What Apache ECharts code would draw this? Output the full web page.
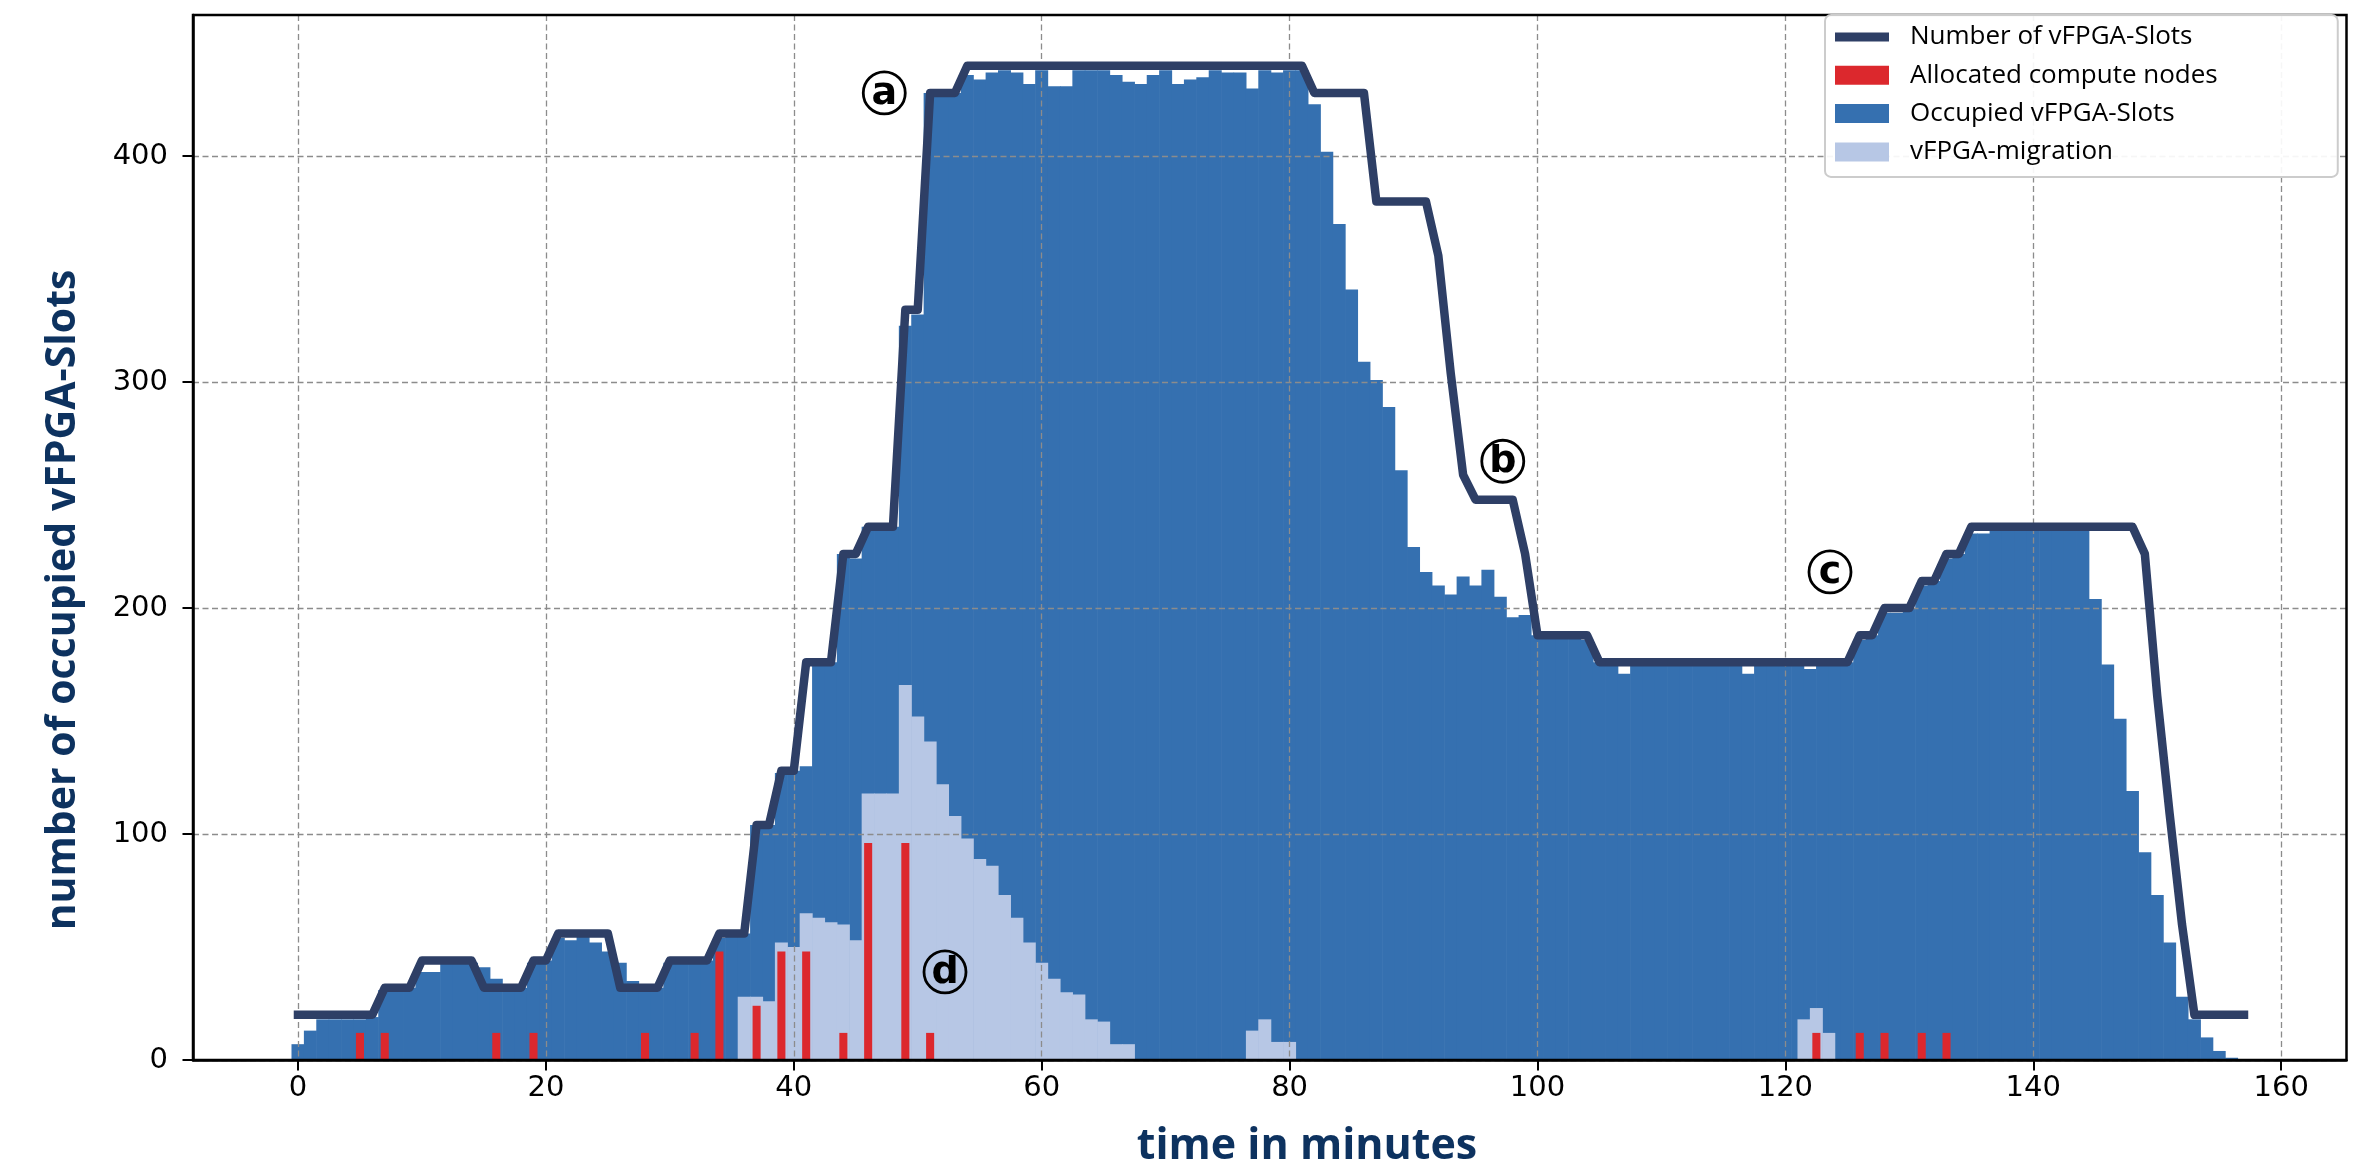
<!DOCTYPE html>
<html>
<head>
<meta charset="utf-8">
<script src="https://cdn.jsdelivr.net/npm/echarts@6/dist/echarts.min.js"></script>
<style>
  html, body { margin: 0; padding: 0; background: #fff; }
  #chart { width: 2357px; height: 1168px; }
</style>
</head>
<body>
<div id="chart"></div>
<script>
// number of vFPGA slots, one value per minute (index = minute)
var slotCount = [
  20, 20, 20, 20, 20, 20, 20, 32, 32, 32,
  44, 44, 44, 44, 44, 32, 32, 32, 32, 44,
  44, 56, 56, 56, 56, 56, 32, 32, 32, 32,
  44, 44, 44, 44, 56, 56, 56, 104, 104, 128,
  128, 176, 176, 176, 224, 224, 236, 236, 236, 332,
  332, 428, 428, 428, 440, 440, 440, 440, 440, 440,
  440, 440, 440, 440, 440, 440, 440, 440, 440, 440,
  440, 440, 440, 440, 440, 440, 440, 440, 440, 440,
  440, 440, 428, 428, 428, 428, 428, 380, 380, 380,
  380, 380, 356, 304, 259, 248, 248, 248, 248, 224,
  188, 188, 188, 188, 188, 176, 176, 176, 176, 176,
  176, 176, 176, 176, 176, 176, 176, 176, 176, 176,
  176, 176, 176, 176, 176, 176, 188, 188, 200, 200,
  200, 212, 212, 224, 224, 236, 236, 236, 236, 236,
  236, 236, 236, 236, 236, 236, 236, 236, 236, 224,
  161, 109, 60, 20, 20, 20, 20, 20
];

// occupied vFPGA slots, one bar per minute (index = minute)
var occupiedSlots = [
  7, 13, 18, 18, 18, 18, 19, 31, 31, 32,
  39, 39, 43, 43, 43, 41, 36, 32, 32, 43,
  44, 54, 53, 55, 52, 48, 43, 35, 32, 32,
  43, 44, 44, 44, 54, 56, 56, 104, 104, 127,
  128, 130, 176, 176, 224, 222, 236, 236, 236, 325,
  330, 428, 428, 428, 436, 434, 437, 438, 437, 432,
  438, 431, 431, 438, 438, 438, 436, 433, 432, 436,
  438, 432, 434, 435, 438, 437, 437, 430, 438, 437,
  438, 438, 423, 402, 370, 341, 309, 301, 289, 261,
  227, 216, 210, 206, 214, 210, 217, 205, 196, 197,
  188, 188, 188, 188, 186, 176, 176, 171, 176, 176,
  176, 176, 176, 176, 176, 176, 176, 171, 176, 176,
  176, 176, 173, 176, 176, 176, 186, 188, 198, 198,
  200, 210, 212, 222, 224, 233, 233, 236, 236, 236,
  236, 236, 236, 236, 236, 204, 175, 151, 119, 92,
  73, 52, 28, 18, 10, 4, 1
];

// vFPGA migrations
var migrationTimes = [
  36, 37, 38, 39, 40, 41, 42, 43, 44, 45,
  46, 47, 48, 49, 50, 51, 52, 53, 54, 55,
  56, 57, 58, 59, 60, 61, 62, 63, 64, 65,
  66, 67, 77, 78, 79, 80, 121.5, 122.5, 123.5
];
var migrationValues = [
  28, 28, 26, 52, 50, 65, 63, 61, 60, 53,
  118, 118, 118, 166, 152, 141, 122, 108, 98, 89,
  86, 73, 63, 52, 43, 36, 30, 29, 18, 17,
  7, 7, 13, 18, 8, 8, 18, 23, 12
];

// allocated compute nodes
var nodeTimes = [5, 7, 16, 19, 28, 32, 34, 37, 39, 41, 44, 46, 49, 51, 122.5, 126, 128, 131, 133];
var nodeValues = [12, 12, 12, 12, 12, 12, 48, 24, 48, 48, 12, 96, 96, 12, 12, 12, 12, 12, 12];

var xTicks = [0, 20, 40, 60, 80, 100, 120, 140, 160];
var yTicks = [0, 100, 200, 300, 400];

// circled markers: letter, minute, slots
var marks = [
  ['a', 47.3, 428],
  ['b', 97.2, 265],
  ['c', 123.6, 216],
  ['d', 52.2, 39]
];

var X_MIN = -8.47, X_MAX = 165.27, Y_MAX = 462.5;
var GRID_LEFT = 193, GRID_RIGHT = 10.5, GRID_TOP = 15, GRID_BOTTOM = 108;
var plotW = 2357 - GRID_LEFT - GRID_RIGHT;
var pxPerMin = plotW / (X_MAX - X_MIN);

var C_LINE = '#2e3f66', C_BLUE = '#3570b0', C_LIGHT = '#b7c7e5', C_RED = '#dc282d';
var C_TITLE = '#0d325f';

function pairs(xs, ys) {
  return xs.map(function (x, i) { return [x, ys[i]]; });
}

var chart = echarts.init(document.getElementById('chart'), null, { renderer: 'canvas' });

var gridLine = { color: '#8c8c8c', width: 1.3, type: [6, 3.5] };
var tickFont = { fontFamily: 'DejaVu Sans', fontSize: 29, color: '#000' };

chart.setOption({
  animation: false,
  grid: {
    left: GRID_LEFT, right: GRID_RIGHT, top: GRID_TOP, bottom: GRID_BOTTOM,
    show: true, borderColor: '#000', borderWidth: 2.5, z: 4
  },
  legend: {
    orient: 'vertical',
    left: 1825, top: 15,
    padding: [9, 120, 12, 10],
    itemWidth: 54, itemHeight: 19, itemGap: 12.3,
    backgroundColor: 'rgba(255,255,255,0.92)',
    borderColor: '#cccccc', borderWidth: 2, borderRadius: 6,
    z: 6,
    textStyle: { fontFamily: 'Open Sans', fontSize: 26, color: '#000', lineHeight: 26, padding: [0, 0, 0, 16] },
    data: [
      { name: 'Number of vFPGA-Slots', icon: 'path://M0,0H54V9H0Z' },
      { name: 'Allocated compute nodes', icon: 'rect' },
      { name: 'Occupied vFPGA-Slots', icon: 'rect' },
      { name: 'vFPGA-migration', icon: 'rect' }
    ]
  },
  xAxis: [{
    type: 'value', min: X_MIN, max: X_MAX, splitNumber: 9, z: 3,
    axisLine: { show: true, onZero: false, lineStyle: { color: '#000', width: 2.5 } },
    axisTick: { show: true, length: 10.5, customValues: xTicks, lineStyle: { color: '#000', width: 2 } },
    axisLabel: Object.assign({ customValues: xTicks, margin: 14 }, tickFont),
    splitLine: { show: true, lineStyle: gridLine }
  }, {
    type: 'value', min: X_MIN, max: X_MAX, show: false
  }],
  yAxis: {
    type: 'value', min: 0, max: Y_MAX, splitNumber: 5, z: 3,
    axisLine: { show: true, onZero: false, lineStyle: { color: '#000', width: 2.5 } },
    axisTick: { show: true, length: 10.5, customValues: yTicks, lineStyle: { color: '#000', width: 2 } },
    axisLabel: Object.assign({ customValues: yTicks, margin: 25 }, tickFont),
    splitLine: { show: true, lineStyle: gridLine }
  },
  series: [{
    name: 'Occupied vFPGA-Slots',
    type: 'bar',
    xAxisIndex: 0,
    barWidth: pxPerMin + 0.6,
    barGap: '-100%',
    itemStyle: { color: C_BLUE },
    data: occupiedSlots.map(function (v, i) { return [i, v]; }),
    z: 2
  }, {
    name: 'vFPGA-migration',
    type: 'bar',
    xAxisIndex: 0,
    barWidth: pxPerMin + 0.6,
    barGap: '-100%',
    itemStyle: { color: C_LIGHT },
    data: pairs(migrationTimes, migrationValues),
    z: 2
  }, {
    name: 'Allocated compute nodes',
    type: 'bar',
    xAxisIndex: 1,
    barWidth: pxPerMin * 0.65,
    itemStyle: { color: C_RED },
    data: pairs(nodeTimes, nodeValues),
    z: 2
  }, {
    name: 'Number of vFPGA-Slots',
    type: 'line',
    xAxisIndex: 0,
    symbol: 'none',
    itemStyle: { color: C_LINE },
    lineStyle: { color: C_LINE, width: 8.5, cap: 'square', join: 'round' },
    data: slotCount.map(function (v, i) { return [i, v]; }),
    z: 5
  }]
});

// axis titles and circled markers
var graphics = [{
  type: 'text', x: 1307, y: 1147, z: 10,
  style: { text: 'time in minutes', font: 'bold 43px "Open Sans"', fill: C_TITLE, textAlign: 'center', textVerticalAlign: 'middle' }
}, {
  type: 'text', x: 63, y: 600, rotation: Math.PI / 2, z: 10,
  style: { text: 'number of occupied vFPGA-Slots', font: 'bold 41px "Open Sans"', fill: C_TITLE, textAlign: 'center', textVerticalAlign: 'middle' }
}];
marks.forEach(function (m) {
  var p = chart.convertToPixel({ gridIndex: 0 }, [m[1], m[2]]);
  graphics.push({
    type: 'circle', z: 10,
    shape: { cx: p[0], cy: p[1], r: 21 },
    style: { fill: 'none', stroke: '#000', lineWidth: 2.8 }
  });
  graphics.push({
    type: 'text', x: p[0], y: p[1] + 1, z: 10,
    style: { text: m[0], font: 'bold 38px "DejaVu Sans"', fill: '#000', textAlign: 'center', textVerticalAlign: 'middle' }
  });
});
chart.setOption({ graphic: graphics });
</script>
</body>
</html>
